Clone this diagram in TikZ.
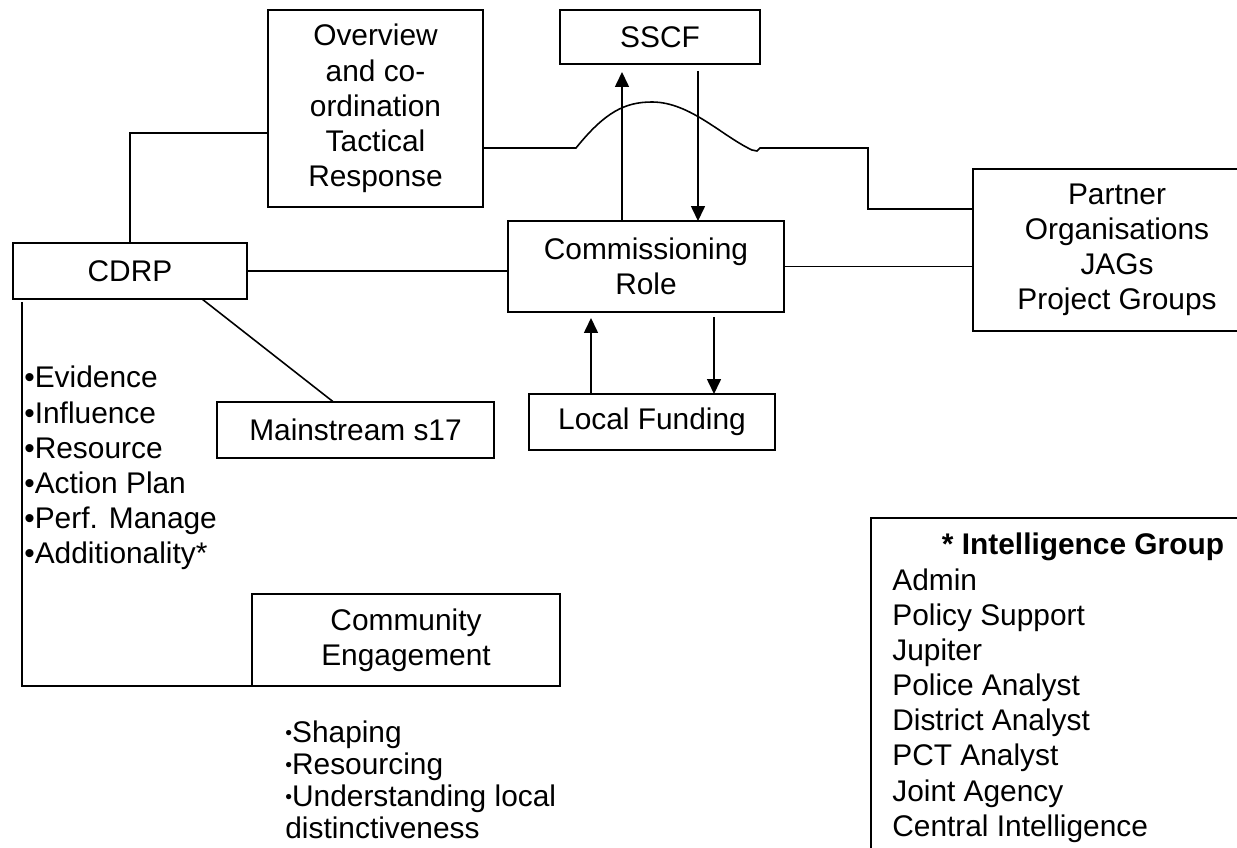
\documentclass[tikz,border=0pt]{standalone}
\usepackage{fontspec}
\setmainfont{Liberation Sans}
\usetikzlibrary{arrows.meta, calc}
\newcommand\smallbul{\raisebox{0.1em}{\fontsize{11}{11}\selectfont\textbullet}}

\begin{document}
\begin{tikzpicture}[
  x=0.02cm, y=-0.02cm,
  every node/.style={font=\fontsize{17}{20}\selectfont},
  box/.style={rectangle, draw, line width=1pt, align=center, inner sep=0pt, outer sep=0pt},
  list/.style={align=left, inner sep=0pt, anchor=west},
  link/.style={line width=0.9pt},
  arrow/.style={-{Triangle[length=0.3cm, width=0.28cm]}, line width=0.9pt}
]
  \useasboundingbox (0,0) rectangle (1237,848);
  \clip (0,0) rectangle (1237,848);

  % boxes
  \node[box, minimum width=4.30cm, minimum height=3.94cm] (over) at (375.5,108.5) {Overview\\and co-\\ordination\\Tactical\\Response};
  \node[box, minimum width=4.00cm, minimum height=1.08cm] (sscf) at (660,37) {SSCF};
  \node[box, minimum width=5.52cm, minimum height=1.82cm] (comm) at (646,266.5) {Commissioning\\Role};
  \node[box, minimum width=4.68cm, minimum height=1.12cm] (cdrp) at (130,271) {CDRP};
  \node[box, minimum width=5.54cm, minimum height=1.12cm] (main) at (355.5,430) {Mainstream s17};
  \node[box, minimum width=4.92cm, minimum height=1.12cm] (fund) at (652,422) {Local Funding};
  \node[box, minimum width=6.16cm, minimum height=1.84cm] (ce) at (406,640) {Community\\Engagement};
  \node[box, minimum width=5.76cm, minimum height=3.24cm] (partner) at (1117,250) {Partner\\Organisations\\JAGs\\Project Groups};
  \node[box, minimum width=8.48cm, minimum height=7.24cm] (intel) at (1083,699) {};

  % lists
  \node[list] (cdrpList) at (24,468) {\textbullet Evidence\\\textbullet Influence\\\textbullet Resource\\\textbullet Action Plan\\\textbullet Perf. Manage\\\textbullet Additionality*};
  \node[list, font=\fontsize{17}{18.2}\selectfont] (ceList) at (285,779.5) {\smallbul Shaping\\\smallbul Resourcing\\\smallbul Understanding local\\distinctiveness};
  \node (intelTitle) at (1083,547) {\bfseries * Intelligence Group};
  \node[list] (intelList) at (892,705.5) {Admin\\Policy Support\\Jupiter\\Police Analyst\\District Analyst\\PCT Analyst\\Joint Agency\\Central Intelligence};

  % connectors
  \coordinate (ovj) at (200,133);
  \coordinate (bumpL) at (576,148);
  \coordinate (jog) at (868,209);
  \draw[link] (cdrp.north) |- (over.west |- ovj);
  \draw[link] (over.east |- bumpL) -- (bumpL) .. controls (605,112) and (625,102) .. (652,102)
    .. controls (690,102) and (722,136) .. (752,150) -- (757,151) -- (760,148) -- (jog |- bumpL) -- (jog) -- (partner.west |- jog);
  \draw[link] (cdrp.east) -- (cdrp.east -| comm.west);
  \draw[link] (comm.east) -- (comm.east -| partner.west);
  \draw[link] ($(cdrp.south)+(72,0)$) -- ($(main.north)+(-22,0)$);
  \draw[link] ($(cdrp.south west)+(9,3)$) |- (ce.south west);

  \coordinate (upS) at (622,0);
  \coordinate (dnS) at (698,0);
  \coordinate (upF) at (591,0);
  \coordinate (dnF) at (714,0);
  \draw[arrow] (comm.north -| upS) -- ($(sscf.south -| upS)+(0,8)$);
  \draw[arrow] ($(sscf.south -| dnS)+(0,7)$) -- (comm.north -| dnS);
  \draw[arrow] (fund.north -| upF) -- ($(comm.south -| upF)+(0,6)$);
  \draw[arrow] ($(comm.south -| dnF)+(0,5)$) -- (fund.north -| dnF);
\end{tikzpicture}
\end{document}
